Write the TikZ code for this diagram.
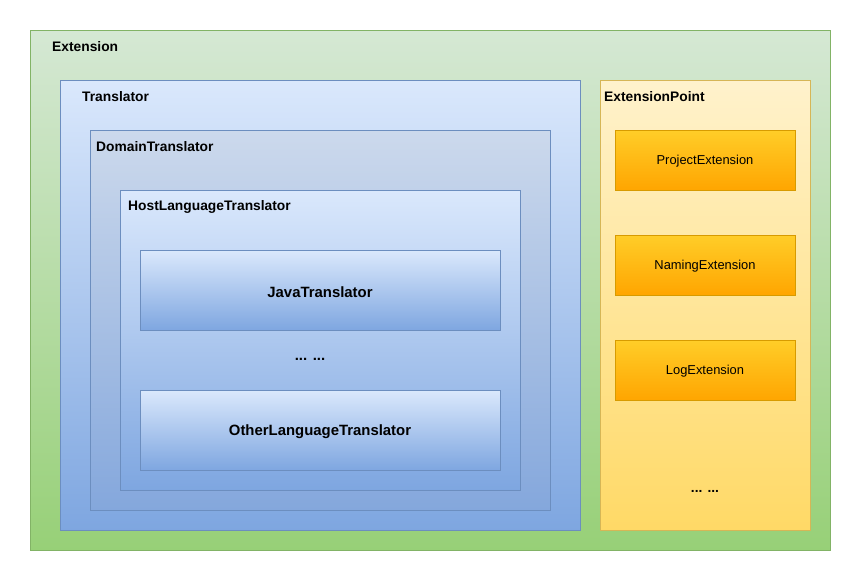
\documentclass[tikz,border=0pt]{standalone}
\usepackage{fontspec}
\setmainfont{Liberation Sans}
\usepackage{tikz}

\definecolor{greenTop}{HTML}{D5E8D4}
\definecolor{greenBot}{HTML}{97D077}
\definecolor{greenLine}{HTML}{82B366}
\definecolor{blueTop}{HTML}{DAE8FC}
\definecolor{blueBot}{HTML}{7EA6E0}
\definecolor{blueLine}{HTML}{6C8EBF}
\definecolor{grayTop}{HTML}{CCD9EC}
\definecolor{grayBot}{HTML}{84A7DC}
\definecolor{yellowTop}{HTML}{FFF2CC}
\definecolor{yellowBot}{HTML}{FFD966}
\definecolor{yellowLine}{HTML}{D6B656}
\definecolor{orangeTop}{HTML}{FFCD28}
\definecolor{orangeBot}{HTML}{FFA500}
\definecolor{orangeLine}{HTML}{D79B00}

\tikzset{
    frame/.style = {rectangle, inner sep = 0pt, anchor = north west, line width = 1pt},
    greenbox/.style = {frame, draw = greenLine, top color = greenTop, bottom color = greenBot},
    bluebox/.style = {frame, draw = blueLine, top color = blueTop, bottom color = blueBot},
    yellowbox/.style = {frame, draw = yellowLine, top color = yellowTop, bottom color = yellowBot},
    orangebox/.style = {frame, draw = orangeLine, top color = orangeTop, bottom color = orangeBot,
        minimum width = 180pt, minimum height = 60pt},
    title/.style = {anchor = west, inner sep = 0pt, font = \fontsize{13.8}{16}\selectfont\bfseries},
    plaintext/.style = {font = \fontsize{12.9}{15}\selectfont},
    bigtext/.style = {font = \fontsize{14.9}{17}\selectfont\bfseries}
}

\begin{document}
\begin{tikzpicture}[x = 1pt, y = -1pt]
    \useasboundingbox [fill = white] (0,0) rectangle (861,581);
    % outer frame
    \node [greenbox, minimum width = 800pt, minimum height = 520pt] (extension) at (30,30) {};
    \node [title] (extensionTitle) at (52,46.5) {Extension};
    % translators
    \node [bluebox, minimum width = 520pt, minimum height = 450pt] (translator) at (60,80) {};
    \node [title] (translatorTitle) at (82,96.5) {Translator};
    \node [bluebox, top color = grayTop, bottom color = grayBot, minimum width = 460pt, minimum height = 380pt] (domain) at (90,130) {};
    \node [title] (domainTitle) at (96,146.5) {DomainTranslator};
    \node [bluebox, minimum width = 400pt, minimum height = 300pt] (host) at (120,190) {};
    \node [title] (hostTitle) at (128,206.5) {HostLanguageTranslator};
    \node [bluebox, minimum width = 360pt, minimum height = 80pt] (java) at (140,250) {};
    \node [bigtext] (javaLabel) at (320,292) {JavaTranslator};
    \node [bigtext] (moreLanguages) at (310,359.5) {... ...};
    \node [bluebox, minimum width = 360pt, minimum height = 80pt] (other) at (140,390) {};
    \node [bigtext] (otherLabel) at (320,432) {OtherLanguageTranslator};
    % extension points
    \node [yellowbox, minimum width = 210pt, minimum height = 450pt] (point) at (600,80) {};
    \node [title] (pointTitle) at (604,96.5) {ExtensionPoint};
    \node [orangebox] (project) at (615,130) {};
    \node [plaintext] (projectLabel) at (705,161.5) {ProjectExtension};
    \node [orangebox] (naming) at (615,235) {};
    \node [plaintext] (namingLabel) at (705,266.5) {NamingExtension};
    \node [orangebox] (log) at (615,340) {};
    \node [plaintext] (logLabel) at (705,371.5) {LogExtension};
    \node [title, anchor = center] (morePoints) at (705,491) {... ...};
\end{tikzpicture}
\end{document}
